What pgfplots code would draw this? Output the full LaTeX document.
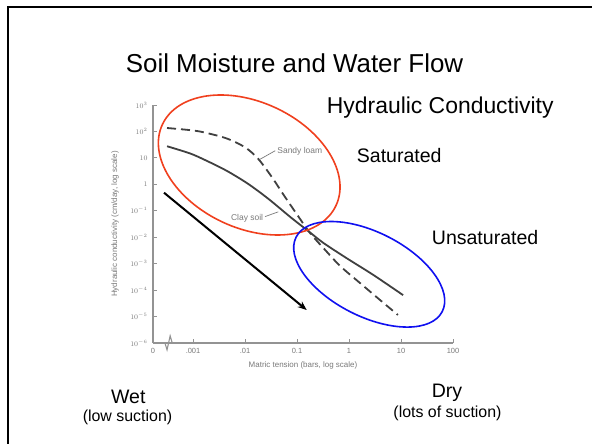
\documentclass[border=0pt]{standalone}
\usepackage{fontspec}
\setmainfont{Liberation Sans}
\usepackage{pgfplots}
\pgfplotsset{compat=1.18}
\usetikzlibrary{arrows.meta}
\definecolor{curve}{HTML}{404040}
\definecolor{axgray}{HTML}{939393}
\definecolor{lblgray}{HTML}{7A7A7A}
\definecolor{ellred}{HTML}{F0401E}
\definecolor{ellblue}{HTML}{1010F0}
\begin{document}
\begin{tikzpicture}[x=1bp,y=1bp]
\path[use as bounding box] (0,0) rectangle (592,444);
\fill[white] (0,0) rectangle (592,444);
\draw[line width=2bp] (8,0) -- (8,437) -- (592,437);
\begin{axis}[at={(153bp,101bp)}, anchor=south west, scale only axis,
  width=300bp, height=238bp,
  xmin=-3.77, xmax=2, ymin=-6, ymax=3, clip=false,
  axis lines=left, axis line style={-, axgray, line width=1.1bp},
  tick align=inside, major tick length=4bp, tick style={axgray, line width=0.9bp},
  xtick={-3.77,-3,-2,-1,0,1,2}, xticklabels={0,.001,.01,0.1,1,10,100},
  ytick={-6,-5,...,3},
  yticklabels={$10^{-6}$,$10^{-5}$,$10^{-4}$,$10^{-3}$,$10^{-2}$,$10^{-1}$,$1$,$10$,$10^{2}$,$10^{3}$},
  ticklabel style={font=\fontsize{7.5}{8}\selectfont, text=lblgray},
  xticklabel style={yshift=-2bp},
  yticklabel style={xshift=-2bp},
  xlabel={Matric tension (bars, log scale)},
  xlabel style={at={(axis description cs:0.5,-0.0924)}, anchor=center, font=\fontsize{8}{9}\selectfont, text=lblgray},
  ylabel={Hydraulic conductivity (cm/day, log scale)},
  ylabel style={at={(axis description cs:-0.1267,0.5)}, anchor=center, font=\fontsize{8}{9}\selectfont, text=lblgray},
]
\addplot[curve, line width=1.8bp, smooth, dash pattern=on 9bp off 5bp] coordinates {
(-3.50,2.13) (-3.06,2.05) (-2.80,1.97) (-2.36,1.74) (-2.00,1.40) (-1.75,0.97)
(-1.50,0.32) (-1.24,-0.45) (-0.98,-1.20) (-0.75,-1.84) (-0.46,-2.48)
(-0.17,-3.09) (0.21,-3.73) (0.60,-4.38) (0.94,-4.94)};
\addplot[curve, line width=1.8bp, smooth] coordinates {
(-3.50,1.44) (-3.06,1.17) (-2.77,0.92) (-2.36,0.52) (-1.95,0.03) (-1.55,-0.55)
(-1.12,-1.25) (-0.75,-1.82) (-0.49,-2.22) (-0.04,-2.80) (0.47,-3.43) (1.04,-4.19)};
\draw[lblgray, line width=0.7bp] (axis cs:-1.71,0.95) -- (axis cs:-1.42,1.27);
\node[anchor=west, font=\fontsize{8.5}{9}\selectfont, text=lblgray, inner sep=1bp] at (axis cs:-1.40,1.24) {Sandy loam};
\draw[lblgray, line width=0.7bp] (axis cs:-1.615,-1.22) -- (axis cs:-1.36,-1.04);
\node[anchor=east, font=\fontsize{8.5}{9}\selectfont, text=lblgray, inner sep=1bp] at (axis cs:-1.63,-1.285) {Clay soil};
\draw[axgray, line width=1.1bp] (axis cs:-3.54,-6) -- (axis cs:-3.50,-6.26) -- (axis cs:-3.44,-5.73) -- (axis cs:-3.40,-6);
\end{axis}
\draw[ellred, line width=1.6bp, rotate around={-25:(249.2,279)}] (249.2,279) ellipse [x radius=95.8, y radius=63];
\draw[ellblue, line width=1.6bp, rotate around={-27:(369.2,169.7)}] (369.2,169.7) ellipse [x radius=82, y radius=42];
\draw[line width=2bp, -{Stealth[length=9bp,width=7bp]}] (164,251.3) -- (306.7,134);
\node[anchor=base, inner sep=0, font=\fontsize{26}{30}\selectfont] at (294.5,371.3) {Soil Moisture and Water Flow};
\node[anchor=base west, inner sep=0, font=\fontsize{23}{27}\selectfont] at (326.7,330.7) {Hydraulic Conductivity};
\node[anchor=base west, inner sep=0, font=\fontsize{19.6}{23}\selectfont] at (356.7,281.3) {Saturated};
\node[anchor=base west, inner sep=0, font=\fontsize{19.6}{23}\selectfont] at (431.7,199.7) {Unsaturated};
\node[anchor=base, inner sep=0, font=\fontsize{19.6}{23}\selectfont] at (128.3,40.7) {Wet};
\node[anchor=base, inner sep=0, font=\fontsize{16}{19}\selectfont] at (127.5,22.3) {(low suction)};
\node[anchor=base, inner sep=0, font=\fontsize{19.6}{23}\selectfont] at (447,46.7) {Dry};
\node[anchor=base, inner sep=0, font=\fontsize{16}{19}\selectfont] at (447.5,26.3) {(lots of suction)};
\end{tikzpicture}
\end{document}
